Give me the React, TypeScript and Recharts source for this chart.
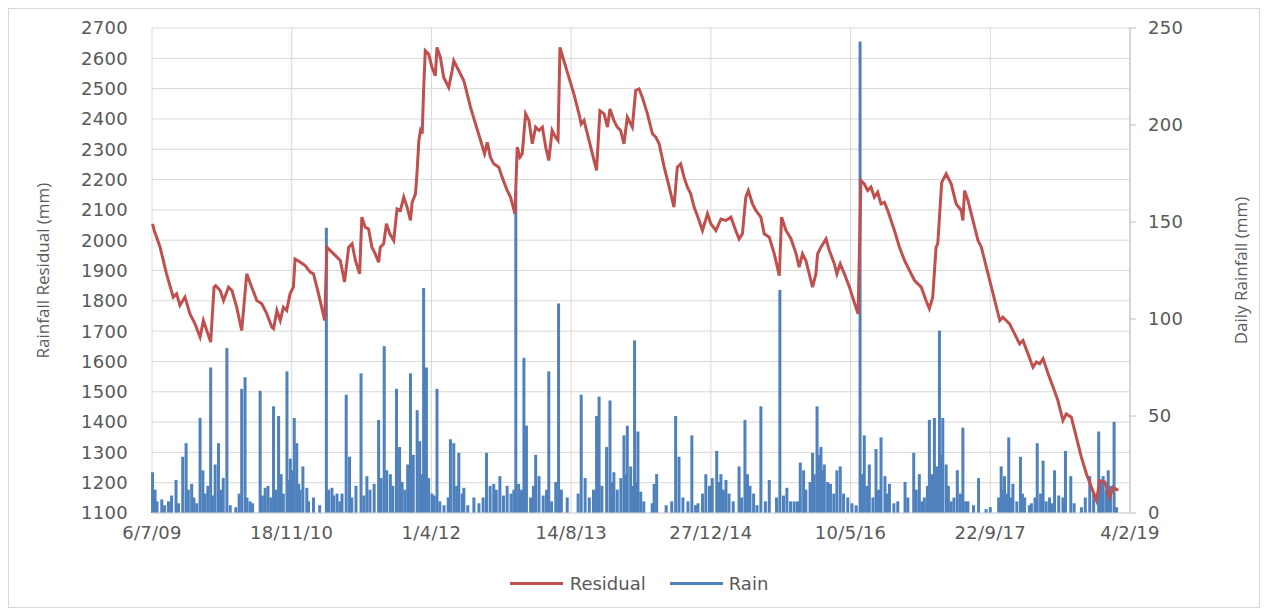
import {
  ComposedChart,
  Line,
  Bar,
  XAxis,
  YAxis,
  CartesianGrid,
  Legend,
} from "recharts";

const RED = "#C0504D";
const BLUE = "#4F81BD";
const TEXT = "#595959";

// x axis is days since 6/7/09
const xTicks = [0, 500, 1000, 1500, 2000, 2500, 3000, 3500];
const xTickLabels = ["6/7/09", "18/11/10", "1/4/12", "14/8/13", "27/12/14", "10/5/16", "22/9/17", "4/2/19"];
const residualTicks = [1100, 1200, 1300, 1400, 1500, 1600, 1700, 1800, 1900, 2000, 2100, 2200, 2300, 2400, 2500, 2600, 2700];
const rainTicks = [0, 50, 100, 150, 200, 250];

// [day, residual mm]
const residual: [number, number][] = [
  [2, 2054], [8, 2032], [29, 1977], [52, 1889], [76, 1812], [88, 1823], [100, 1785], [118, 1812],
  [136, 1757], [154, 1724], [172, 1680], [184, 1735], [196, 1702], [210, 1664], [222, 1845], [228, 1850],
  [244, 1834], [256, 1801], [274, 1845], [286, 1834], [303, 1779], [321, 1702], [339, 1889], [357, 1845],
  [375, 1801], [393, 1790], [411, 1757], [429, 1713], [435, 1708], [447, 1768], [459, 1735], [470, 1779],
  [482, 1768], [494, 1823], [506, 1845], [512, 1938], [530, 1928], [548, 1916], [566, 1895], [578, 1889],
  [596, 1823], [618, 1735], [626, 1977], [650, 1955], [662, 1944], [674, 1933], [689, 1862], [704, 1977],
  [716, 1988], [728, 1933], [743, 1889], [751, 2076], [763, 2043], [775, 2037], [787, 1977], [799, 1955],
  [811, 1927], [817, 1977], [829, 1988], [839, 2054], [851, 2021], [865, 1999], [877, 2103], [889, 2098],
  [901, 2142], [913, 2109], [925, 2065], [931, 2125], [943, 2153], [949, 2230], [955, 2329], [961, 2362],
  [967, 2351], [972, 2494], [978, 2625], [990, 2614], [1002, 2570], [1014, 2543], [1020, 2636], [1032, 2603],
  [1044, 2537], [1062, 2504], [1074, 2559], [1080, 2592], [1098, 2559], [1116, 2526], [1122, 2504], [1140, 2438],
  [1158, 2383], [1176, 2329], [1190, 2285], [1200, 2323], [1211, 2274], [1223, 2252], [1241, 2241], [1253, 2208],
  [1271, 2164], [1283, 2142], [1299, 2087], [1307, 2307], [1317, 2274], [1325, 2285], [1337, 2417], [1349, 2395],
  [1361, 2318], [1373, 2373], [1385, 2362], [1397, 2373], [1409, 2307], [1420, 2263], [1432, 2362], [1444, 2340],
  [1453, 2329], [1460, 2636], [1474, 2592], [1492, 2537], [1510, 2482], [1528, 2417], [1536, 2383], [1546, 2395],
  [1564, 2329], [1582, 2263], [1591, 2230], [1603, 2427], [1618, 2417], [1630, 2373], [1639, 2433], [1653, 2395],
  [1665, 2373], [1677, 2362], [1689, 2318], [1701, 2406], [1719, 2373], [1731, 2494], [1743, 2499], [1755, 2471],
  [1773, 2417], [1791, 2351], [1803, 2340], [1815, 2318], [1833, 2241], [1851, 2175], [1868, 2109], [1880, 2241],
  [1892, 2252], [1904, 2208], [1916, 2175], [1928, 2153], [1940, 2109], [1958, 2065], [1970, 2032], [1988, 2087],
  [2000, 2054], [2018, 2032], [2036, 2070], [2054, 2065], [2072, 2076], [2089, 2032], [2101, 2004], [2113, 2021],
  [2125, 2142], [2134, 2164], [2149, 2120], [2161, 2098], [2179, 2076], [2191, 2021], [2209, 2010], [2227, 1955],
  [2245, 1883], [2253, 2076], [2269, 2032], [2287, 2004], [2305, 1955], [2316, 1911], [2328, 1955], [2340, 1933],
  [2352, 1889], [2364, 1845], [2376, 1889], [2382, 1955], [2394, 1977], [2412, 2004], [2424, 1966], [2442, 1922],
  [2451, 1889], [2463, 1922], [2478, 1889], [2496, 1845], [2511, 1801], [2527, 1757], [2537, 2197], [2549, 2186],
  [2561, 2164], [2573, 2175], [2585, 2142], [2597, 2158], [2609, 2120], [2621, 2125], [2633, 2098], [2657, 2032],
  [2675, 1977], [2693, 1933], [2711, 1900], [2729, 1867], [2741, 1856], [2753, 1845], [2770, 1801], [2782, 1774],
  [2794, 1812], [2806, 1977], [2812, 1988], [2826, 2190], [2842, 2219], [2860, 2186], [2878, 2120], [2896, 2098],
  [2902, 2065], [2908, 2164], [2920, 2131], [2938, 2065], [2956, 1999], [2968, 1977], [2992, 1889], [3016, 1801],
  [3034, 1735], [3045, 1746], [3057, 1735], [3069, 1724], [3087, 1691], [3105, 1658], [3117, 1669], [3135, 1625],
  [3153, 1581], [3165, 1598], [3177, 1592], [3189, 1609], [3207, 1559], [3225, 1515], [3242, 1471], [3260, 1405],
  [3272, 1427], [3290, 1416], [3308, 1350], [3326, 1284], [3344, 1229], [3362, 1185], [3380, 1142], [3392, 1207],
  [3410, 1202], [3427, 1152], [3440, 1185], [3458, 1174],
];

// [day, daily rain mm]
const rain: [number, number][] = [
  [2, 21], [11, 12], [18, 6], [35, 7], [45, 4], [59, 6], [70, 9], [86, 17], [95, 5], [110, 29], [122, 36],
  [130, 12], [142, 15], [150, 8], [160, 5], [172, 49], [182, 22], [190, 10], [200, 14], [210, 75], [218, 9],
  [226, 25], [238, 36], [246, 12], [255, 18], [268, 85], [280, 4], [300, 3], [312, 10], [321, 64], [333, 70],
  [340, 8], [351, 6], [360, 5], [387, 63], [395, 9], [405, 13], [415, 14], [425, 8], [435, 55], [444, 12],
  [453, 50], [462, 20], [470, 10], [483, 73], [490, 17], [495, 28], [500, 22], [509, 49], [518, 36], [525, 15],
  [530, 12], [540, 24], [554, 13], [560, 6], [578, 8], [600, 4], [624, 147], [632, 12], [644, 13], [650, 9],
  [662, 10], [672, 6], [680, 10], [695, 61], [707, 29], [715, 8], [730, 14], [748, 72], [758, 9], [769, 19],
  [780, 12], [795, 15], [811, 48], [820, 18], [831, 86], [840, 22], [853, 20], [862, 14], [875, 64], [886, 34],
  [895, 16], [905, 12], [915, 25], [925, 72], [935, 30], [949, 53], [958, 37], [965, 20], [972, 116], [982, 75],
  [990, 18], [1002, 10], [1010, 9], [1020, 64], [1030, 6], [1045, 4], [1060, 8], [1068, 38], [1080, 36],
  [1090, 14], [1098, 31], [1110, 10], [1116, 13], [1130, 4], [1152, 8], [1170, 5], [1185, 8], [1197, 31],
  [1210, 14], [1223, 15], [1232, 12], [1245, 19], [1258, 9], [1271, 14], [1285, 10], [1295, 12], [1302, 166],
  [1312, 15], [1322, 12], [1331, 80], [1340, 45], [1355, 8], [1365, 14], [1373, 30], [1385, 19], [1400, 9],
  [1412, 12], [1420, 73], [1430, 6], [1445, 16], [1455, 108], [1465, 12], [1486, 8], [1525, 10], [1536, 61],
  [1550, 18], [1565, 8], [1580, 12], [1591, 50], [1600, 60], [1610, 14], [1627, 34], [1639, 58], [1645, 16],
  [1653, 21], [1665, 12], [1678, 18], [1689, 40], [1695, 20], [1701, 45], [1713, 24], [1720, 14], [1727, 89],
  [1733, 16], [1739, 42], [1749, 11], [1760, 6], [1790, 5], [1797, 15], [1806, 20], [1840, 4], [1860, 6],
  [1874, 50], [1886, 29], [1900, 8], [1918, 6], [1932, 40], [1945, 4], [1954, 5], [1970, 10], [1982, 20],
  [1995, 14], [2005, 18], [2021, 32], [2028, 16], [2036, 20], [2045, 12], [2054, 17], [2065, 10], [2080, 6],
  [2101, 24], [2110, 8], [2122, 48], [2131, 20], [2140, 14], [2153, 10], [2165, 4], [2179, 55], [2195, 6],
  [2209, 17], [2235, 8], [2247, 115], [2260, 9], [2272, 13], [2285, 6], [2298, 6], [2310, 6], [2320, 26],
  [2332, 22], [2340, 12], [2355, 16], [2364, 31], [2370, 20], [2380, 55], [2385, 30], [2394, 34], [2400, 22],
  [2406, 25], [2418, 16], [2428, 15], [2440, 10], [2451, 22], [2463, 24], [2475, 10], [2490, 8], [2505, 5],
  [2520, 4], [2534, 243], [2540, 20], [2549, 40], [2558, 14], [2567, 25], [2580, 8], [2591, 33], [2600, 12],
  [2609, 39], [2623, 19], [2630, 10], [2639, 15], [2655, 5], [2669, 6], [2695, 16], [2705, 8], [2726, 31],
  [2735, 12], [2746, 20], [2755, 6], [2764, 8], [2775, 14], [2782, 48], [2790, 20], [2800, 49], [2808, 24],
  [2818, 94], [2825, 30], [2830, 49], [2842, 25], [2850, 14], [2860, 6], [2870, 8], [2882, 22], [2893, 10],
  [2902, 44], [2912, 6], [2920, 6], [2940, 4], [2958, 18], [2985, 2], [3000, 3], [3030, 8], [3039, 24],
  [3045, 12], [3051, 19], [3060, 10], [3066, 39], [3075, 8], [3081, 15], [3095, 6], [3108, 29], [3115, 10],
  [3123, 8], [3140, 4], [3147, 5], [3160, 8], [3168, 36], [3180, 10], [3189, 27], [3200, 6], [3212, 8],
  [3220, 5], [3230, 22], [3245, 9], [3260, 8], [3269, 32], [3288, 19], [3300, 5], [3326, 3], [3340, 8],
  [3356, 19], [3370, 10], [3388, 42], [3395, 16], [3404, 19], [3415, 12], [3422, 22], [3430, 14], [3443, 47],
  [3452, 3],
];

type Row = { day: number; residual?: number; rain?: number };
const rows = new Map<number, Row>();
residual.forEach(([day, v]) => rows.set(day, { ...(rows.get(day) || { day }), residual: v }));
rain.forEach(([day, v]) => rows.set(day, { ...(rows.get(day) || { day }), rain: v }));
const data = Array.from(rows.values()).sort((a, b) => a.day - b.day);

const tickStyle = { fill: TEXT, fontSize: 18, fontFamily: "DejaVu Sans", letterSpacing: 0.3 };

// recharts overwrites x/y on label elements, so use own prop names
const AxisTitle = ({ text, tx, ty }: { text: string; tx: number; ty: number }) => (
  <text
    x={tx}
    y={ty}
    transform={`rotate(-90 ${tx} ${ty})`}
    textAnchor="middle"
    dominantBaseline="central"
    fill={TEXT}
    fontSize={17}
    fontFamily="Open Sans"
  >
    {text}
  </text>
);

// daily rain drawn as thin spikes of fixed width
const RainSpike = (props: any) => {
  const { x, y, width, height } = props;
  if (!height || height <= 0) return null;
  return <rect x={x + width / 2 - 1.5} y={y} width={3} height={height} fill={BLUE} />;
};

const LegendBox = () => (
  <div
    style={{
      display: "flex",
      justifyContent: "center",
      alignItems: "center",
      height: 40,
      paddingLeft: 10,
      fontFamily: "DejaVu Sans",
      fontSize: 18,
      color: TEXT,
    }}
  >
    <span style={{ width: 53, height: 3, background: RED }} />
    <span style={{ marginLeft: 7, marginRight: 24 }}>Residual</span>
    <span style={{ width: 53, height: 3, background: BLUE }} />
    <span style={{ marginLeft: 6 }}>Rain</span>
  </div>
);

export default function App() {
  return (
    <div style={{ width: 1250, height: 598, border: "1px solid #d9d9d9", background: "#fff" }}>
      <ComposedChart width={1250} height={598} data={data} margin={{ top: 19, right: 10, bottom: 4, left: 10 }}>
        <CartesianGrid stroke="#d9d9d9" yAxisId="left" />
        <XAxis
          dataKey="day"
          type="number"
          domain={[0, 3500]}
          ticks={xTicks}
          tickFormatter={(v: number) => xTickLabels[xTicks.indexOf(v)]}
          height={50}
          tick={tickStyle}
          tickLine={false}
          tickSize={0}
          tickMargin={13}
          axisLine={{ stroke: "#d9d9d9" }}
        />
        <YAxis
          yAxisId="left"
          domain={[1100, 2700]}
          ticks={residualTicks}
          width={133}
          tick={tickStyle}
          tickLine={false}
          tickSize={0}
          tickMargin={24}
          axisLine={false}
          label={<AxisTitle text="Rainfall Residual (mm)" tx={33} ty={261.5} />}
        />
        <YAxis
          yAxisId="right"
          orientation="right"
          domain={[0, 250]}
          ticks={rainTicks}
          width={119}
          tick={tickStyle}
          tickLine={{ stroke: "#bfbfbf" }}
          tickSize={6}
          tickMargin={12}
          axisLine={{ stroke: "#bfbfbf" }}
          label={<AxisTitle text="Daily Rainfall (mm)" tx={1231} ty={261.5} />}
        />
        <Legend verticalAlign="bottom" height={40} content={() => <LegendBox />} />
        <Line
          yAxisId="left"
          dataKey="residual"
          name="Residual"
          type="linear"
          stroke={RED}
          strokeWidth={3}
          dot={false}
          connectNulls
          isAnimationActive={false}
        />
        <Bar
          yAxisId="right"
          dataKey="rain"
          name="Rain"
          fill={BLUE}
          shape={RainSpike}
          isAnimationActive={false}
        />
      </ComposedChart>
    </div>
  );
}
